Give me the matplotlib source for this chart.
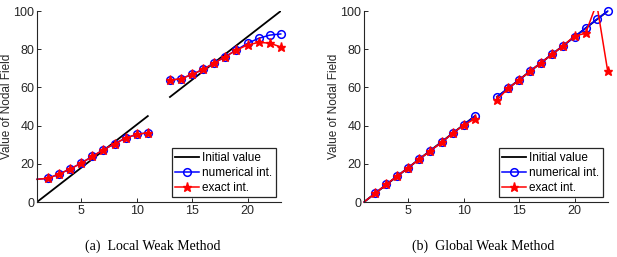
import matplotlib.pyplot as plt
from matplotlib.patches import Rectangle

# node indices (the two sub-domains)
nodes_a = [1, 2, 3, 4, 5, 6, 7, 8, 9, 10, 11]
nodes_b = [13, 14, 15, 16, 17, 18, 19, 20, 21, 22, 23]

# initial value (same in both panels)
init_a = [0, 4.5, 9, 13.5, 18, 22.5, 27, 31.5, 36, 40.5, 45]
init_b = [55, 59.5, 64, 68.5, 73, 77.5, 82, 86.5, 91, 95.5, 100]

# (a) local weak method
local_num_a = [11.9, 12.4, 14.7, 17.3, 20.4, 23.9, 27.4, 30.5, 33.5, 35.4, 36.3]
local_exact_a = [11.9, 12.4, 14.7, 17.3, 20.4, 23.9, 27.4, 30.5, 33.5, 35.4, 36.3]
local_num_b = [63.7, 64.6, 66.8, 69.5, 72.8, 76.1, 79.6, 83.1, 85.7, 87.4, 88.0]
local_exact_b = [63.7, 64.6, 66.8, 69.5, 72.8, 76.1, 79.6, 82.2, 83.6, 83.2, 81.2]

# (b) global weak method
global_num_a = [0, 4.5, 9.2, 13.6, 18, 22.5, 26.9, 31.2, 36, 40.3, 45]
global_exact_a = [0, 4.5, 9.2, 13.6, 18, 22.5, 26.9, 31.2, 36, 40.3, 43.5]
global_num_b = [55, 59.5, 63.9, 68.6, 73, 77.5, 81.9, 86.4, 91.1, 95.6, 100]
global_exact_b = [53.4, 59.5, 63.9, 68.6, 73, 77.5, 81.9, 87.0, 88.3, 104, 68.4]

labels = ['Initial value', 'numerical int.', 'exact int.']
captions = ['(a)  Local Weak Method', '(b)  Global Weak Method']

plt.rcParams['font.family'] = ['Liberation Sans', 'DejaVu Sans']

fig = plt.figure(figsize=(6.17, 2.57), dpi=100)
axes = [fig.add_axes([0.060, 0.214, 0.395, 0.743]),
        fig.add_axes([0.590, 0.214, 0.395, 0.743])]

panels = [
    (local_num_a, local_exact_a, local_num_b, local_exact_b),
    (global_num_a, global_exact_a, global_num_b, global_exact_b),
]

blue = '#0000ff'
red = '#ff0000'
grey = '#262626'
marks = range(1, 11)

for ax, (num_a, ex_a, num_b, ex_b) in zip(axes, panels):
    h_init, = ax.plot(nodes_a, init_a, color='black', lw=1.3)
    ax.plot(nodes_b, init_b, color='black', lw=1.3)

    h_num, = ax.plot(nodes_a, num_a, color=blue, lw=1.1, marker='o', ms=5.5,
                     mfc='none', mec=blue, mew=1.1, markevery=marks, clip_on=False)
    ax.plot(nodes_b, num_b, color=blue, lw=1.1, marker='o', ms=5.5,
            mfc='none', mec=blue, mew=1.1, clip_on=False)

    h_ex, = ax.plot(nodes_a, ex_a, color=red, lw=1.1, marker='*', ms=6.5,
                    mfc=red, mec=red, markevery=marks, clip_on=False)
    ln, = ax.plot(nodes_b, ex_b, color=red, lw=1.1, marker='*', ms=6.5,
                  mfc=red, mec=red)
    # clip only at the top so edge markers stay whole
    clip = Rectangle((-0.05, -0.05), 1.1, 1.05, transform=ax.transAxes)
    ln.set_clip_path(clip)

    ax.set_xlim(1, 23)
    ax.set_ylim(0, 100)
    ax.set_xticks([5, 10, 15, 20])
    ax.set_yticks([0, 20, 40, 60, 80, 100])
    ax.tick_params(direction='in', length=3, labelsize=9, pad=2, width=0.7,
                   colors=grey)
    for s in ['top', 'right']:
        ax.spines[s].set_visible(False)
    for s in ['left', 'bottom']:
        ax.spines[s].set_linewidth(0.8)
        ax.spines[s].set_color(grey)
    ax.set_ylabel('Value of Nodal Field', fontsize=8.5, color=grey)
    ax.yaxis.set_label_coords(-0.1, 0.5)

    leg = ax.legend([h_init, h_num, h_ex], labels, loc='lower right',
                    fontsize=8.5, fancybox=False, framealpha=1,
                    handlelength=2.0, handletextpad=0.3, borderpad=0.3,
                    labelspacing=0.25, borderaxespad=0.4)
    leg.get_frame().set_edgecolor(grey)
    leg.get_frame().set_linewidth(0.9)

fig.text(153 / 617, 1 - 246 / 257, captions[0], ha='center', va='center',
         fontsize=10, family='Liberation Serif')
fig.text(483 / 617, 1 - 246 / 257, captions[1], ha='center', va='center',
         fontsize=10, family='Liberation Serif')

fig.savefig('out.png', dpi=100)
